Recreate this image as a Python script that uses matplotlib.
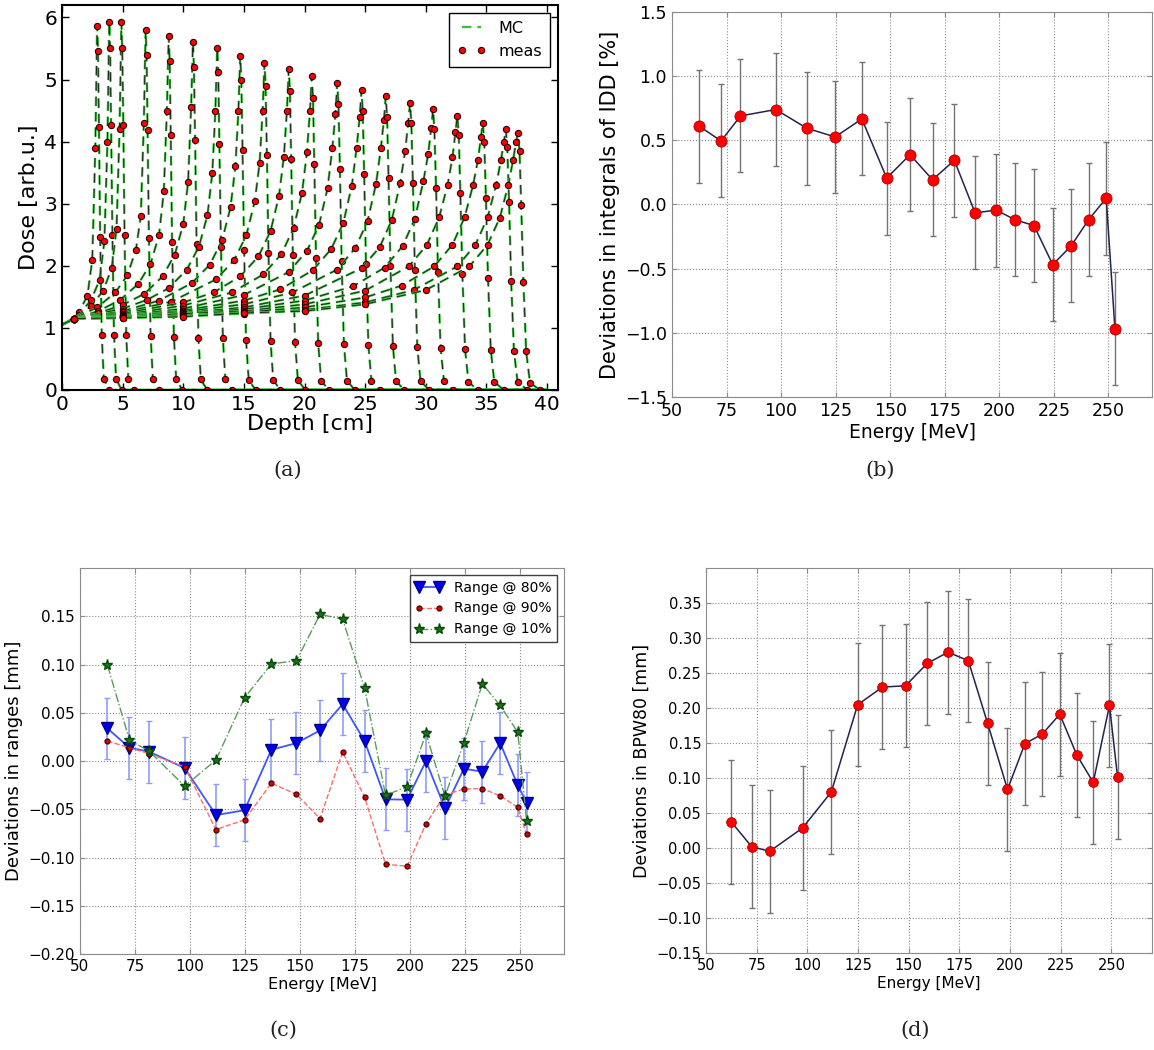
import matplotlib
matplotlib.use('Agg')
import matplotlib.pyplot as plt

# (a) depth dose curves, one list per beam energy
depth_cm = [
    [0, 1, 1.4, 2.1, 2.5, 2.75, 2.9, 2.97, 3.05, 3.15, 3.28, 3.45, 3.9, 40],
    [0, 1, 1.4, 2.4, 3.1, 3.5, 3.75, 3.9, 3.97, 4.05, 4.16, 4.29, 4.46, 4.92, 40],
    [0, 1, 2.4, 3.4, 4.1, 4.5, 4.75, 4.9, 4.97, 5.06, 5.16, 5.3, 5.47, 5.94, 40],
    [0, 1, 2.9, 4.4, 5.4, 6.1, 6.5, 6.75, 6.9, 6.98, 7.06, 7.17, 7.31, 7.5, 7.99, 40],
    [0, 1, 3.0, 4.8, 6.3, 7.3, 8.0, 8.4, 8.65, 8.8, 8.88, 8.97, 9.08, 9.23, 9.42, 9.93, 40],
    [0, 1, 3.0, 5.0, 6.8, 8.3, 9.3, 10.0, 10.4, 10.65, 10.8, 10.88, 10.98, 11.1, 11.25, 11.45, 11.98, 40],
    [0, 1, 5.0, 7.0, 8.8, 10.3, 11.3, 12.0, 12.4, 12.65, 12.8, 12.89, 12.98, 13.11, 13.27, 13.47, 14.02, 40],
    [0, 1, 5.0, 8.0, 10.7, 12.2, 13.2, 13.9, 14.3, 14.55, 14.7, 14.79, 14.89, 15.02, 15.18, 15.4, 15.97, 40],
    [0, 1, 5.0, 9.0, 12.7, 14.2, 15.2, 15.9, 16.3, 16.55, 16.7, 16.79, 16.9, 17.03, 17.2, 17.42, 18.01, 40],
    [0, 1, 5.0, 10.0, 12.5, 14.7, 16.2, 17.2, 17.9, 18.3, 18.55, 18.7, 18.8, 18.9, 19.04, 19.22, 19.45, 20.06, 40],
    [0, 1, 5.0, 10.0, 14.0, 16.6, 18.1, 19.1, 19.8, 20.2, 20.45, 20.6, 20.7, 20.81, 20.95, 21.13, 21.37, 22.0, 40],
    [0, 1, 5.0, 10.0, 15.0, 18.7, 20.2, 21.2, 21.9, 22.3, 22.55, 22.7, 22.8, 22.92, 23.06, 23.25, 23.5, 24.15, 40],
    [0, 1, 5.0, 10.0, 15.0, 18.0, 20.7, 22.2, 23.2, 23.9, 24.3, 24.55, 24.7, 24.8, 24.92, 25.07, 25.27, 25.52, 26.2, 40],
    [0, 1, 5.0, 10.0, 15.0, 19.0, 22.7, 24.2, 25.2, 25.9, 26.3, 26.55, 26.7, 26.81, 26.93, 27.09, 27.29, 27.55, 28.24, 40],
    [0, 1, 5.0, 10.0, 15.0, 20.0, 24.7, 26.2, 27.2, 27.9, 28.3, 28.55, 28.7, 28.81, 28.94, 29.1, 29.3, 29.57, 30.29, 40],
    [0, 1, 5.0, 10.0, 15.0, 20.0, 24.0, 26.6, 28.1, 29.1, 29.8, 30.2, 30.45, 30.6, 30.71, 30.85, 31.01, 31.22, 31.5, 32.23, 40],
    [0, 1, 5.0, 10.0, 15.0, 20.0, 25.0, 28.6, 30.1, 31.1, 31.8, 32.2, 32.45, 32.6, 32.72, 32.85, 33.02, 33.24, 33.52, 34.28, 40],
    [0, 1, 5.0, 10.0, 15.0, 20.0, 25.0, 28.0, 30.7, 32.2, 33.2, 33.9, 34.3, 34.55, 34.7, 34.82, 34.96, 35.13, 35.36, 35.65, 36.43, 40],
    [0, 1, 5.0, 10.0, 15.0, 20.0, 25.0, 29.0, 32.6, 34.1, 35.1, 35.8, 36.2, 36.45, 36.6, 36.72, 36.87, 37.04, 37.27, 37.57, 38.37, 40],
    [0, 1, 5.0, 10.0, 15.0, 20.0, 25.0, 30.0, 33.6, 35.1, 36.1, 36.8, 37.2, 37.45, 37.6, 37.73, 37.87, 38.05, 38.28, 38.59, 39.39, 40],
]
dose_au = [
    [1.05, 1.15, 1.25, 1.52, 2.1, 3.9, 5.87, 5.46, 4.23, 2.47, 0.88, 0.18, 0, 0],
    [1.05, 1.15, 1.21, 1.45, 1.77, 2.4, 4.0, 5.92, 5.51, 4.26, 2.49, 0.89, 0.18, 0, 0],
    [1.05, 1.15, 1.35, 1.6, 1.96, 2.6, 4.2, 5.92, 5.51, 4.26, 2.49, 0.89, 0.18, 0, 0],
    [1.05, 1.15, 1.33, 1.57, 1.85, 2.26, 2.8, 4.3, 5.8, 5.39, 4.18, 2.44, 0.87, 0.17, 0, 0],
    [1.05, 1.15, 1.27, 1.45, 1.71, 2.03, 2.49, 3.2, 4.5, 5.7, 5.3, 4.1, 2.39, 0.86, 0.17, 0, 0],
    [1.05, 1.15, 1.24, 1.37, 1.55, 1.83, 2.18, 2.67, 3.35, 4.55, 5.6, 5.21, 4.03, 2.35, 0.84, 0.17, 0, 0],
    [1.05, 1.15, 1.31, 1.45, 1.64, 1.94, 2.31, 2.82, 3.5, 4.5, 5.5, 5.12, 3.96, 2.31, 0.83, 0.17, 0, 0],
    [1.05, 1.15, 1.27, 1.44, 1.72, 2.02, 2.41, 2.94, 3.6, 4.5, 5.38, 5.0, 3.87, 2.26, 0.81, 0.16, 0, 0],
    [1.05, 1.15, 1.25, 1.42, 1.78, 2.09, 2.49, 3.04, 3.66, 4.5, 5.27, 4.9, 3.79, 2.21, 0.79, 0.16, 0, 0],
    [1.05, 1.15, 1.23, 1.41, 1.57, 1.83, 2.15, 2.56, 3.13, 3.76, 4.5, 5.17, 4.81, 3.72, 2.17, 0.78, 0.16, 0, 0],
    [1.05, 1.15, 1.21, 1.36, 1.57, 1.86, 2.19, 2.61, 3.18, 3.83, 4.5, 5.05, 4.7, 3.64, 2.12, 0.76, 0.15, 0, 0],
    [1.05, 1.15, 1.20, 1.31, 1.53, 1.9, 2.24, 2.66, 3.25, 3.9, 4.45, 4.95, 4.6, 3.56, 2.08, 0.74, 0.15, 0, 0],
    [1.05, 1.15, 1.19, 1.28, 1.44, 1.62, 1.93, 2.27, 2.69, 3.29, 3.9, 4.4, 4.83, 4.49, 3.48, 2.03, 0.72, 0.14, 0, 0],
    [1.05, 1.15, 1.19, 1.26, 1.38, 1.57, 1.94, 2.29, 2.72, 3.32, 3.9, 4.35, 4.73, 4.4, 3.41, 1.99, 0.71, 0.14, 0, 0],
    [1.05, 1.15, 1.18, 1.24, 1.33, 1.52, 1.96, 2.3, 2.74, 3.34, 3.85, 4.3, 4.62, 4.3, 3.33, 1.94, 0.69, 0.14, 0, 0],
    [1.05, 1.15, 1.17, 1.23, 1.30, 1.44, 1.67, 1.97, 2.32, 2.76, 3.36, 3.8, 4.22, 4.52, 4.2, 3.25, 1.9, 0.68, 0.14, 0, 0],
    [1.05, 1.15, 1.17, 1.23, 1.27, 1.38, 1.6, 1.99, 2.34, 2.78, 3.3, 3.75, 4.15, 4.42, 4.11, 3.18, 1.86, 0.66, 0.13, 0, 0],
    [1.05, 1.15, 1.17, 1.20, 1.25, 1.33, 1.49, 1.68, 1.99, 2.34, 2.78, 3.3, 3.7, 4.07, 4.3, 4.0, 3.1, 1.81, 0.65, 0.13, 0, 0],
    [1.05, 1.15, 1.16, 1.19, 1.23, 1.29, 1.41, 1.61, 1.99, 2.34, 2.78, 3.3, 3.7, 4.0, 4.2, 3.91, 3.02, 1.76, 0.63, 0.13, 0, 0],
    [1.05, 1.15, 1.16, 1.18, 1.24, 1.27, 1.38, 1.61, 1.99, 2.34, 2.77, 3.3, 3.7, 4.0, 4.14, 3.85, 2.98, 1.74, 0.62, 0.12, 0, 0],
]

# (b)-(d) deviations per beam energy
energy = [62.5, 72.5, 81.4, 97.6, 111.8, 124.8, 137.0, 148.4, 159.1, 169.4,
          179.4, 188.9, 198.7, 207.3, 215.9, 224.5, 232.9, 241.0, 249.0, 253.0]
idd_dev = [0.61, 0.495, 0.69, 0.74, 0.594, 0.526, 0.667, 0.206, 0.388, 0.193,
           0.344, -0.065, -0.044, -0.12, -0.164, -0.469, -0.323, -0.117, 0.049, -0.969]
idd_err = 0.44
range80 = [0.0338, 0.0138, 0.0097, -0.0072, -0.056, -0.051, 0.0117, 0.0186, 0.0317, 0.059,
           0.0207, -0.0397, -0.040, 0.000, -0.049, -0.008, -0.011, 0.0186, -0.025, -0.043]
range80_err = 0.032
range90 = [0.0207, 0.0138, 0.0076, -0.006, -0.071, -0.061, -0.023, -0.0345, -0.0597, 0.0093,
           -0.0376, -0.107, -0.109, -0.065, -0.035, -0.029, -0.0286, -0.036, -0.048, -0.076]
range10 = [0.0993, 0.0217, 0.0103, -0.026, 0.001, 0.0655, 0.1007, 0.104, 0.152, 0.147,
           0.0755, -0.0355, -0.0266, 0.0286, -0.0366, 0.019, 0.080, 0.0576, 0.030, -0.062]
bpw80 = [0.0371, 0.0019, -0.0048, 0.0285, 0.080, 0.2046, 0.2298, 0.2317, 0.2636, 0.2797,
         0.2674, 0.178, 0.0837, 0.149, 0.1627, 0.191, 0.1327, 0.0937, 0.2036, 0.1013]
bpw80_err = 0.088

energy_ticks = [50, 75, 100, 125, 150, 175, 200, 225, 250]

fig = plt.figure(figsize=(11.54, 10.5), dpi=100)

# ---- (a)
ax = fig.add_axes([0.0537, 0.6286, 0.4298, 0.3666])
for d, v in zip(depth_cm, dose_au):
    mc, = ax.plot(d, v, '--', color='#3cc03c', lw=1.7, dashes=(4, 2.5))
    # dark core of the dashes, as in the scanned original
    ax.plot(d, v, '--', color='#1a2a1a', lw=0.7, dashes=(4 * 1.7 / 0.7, 2.5 * 1.7 / 0.7))
    ms, = ax.plot(d[1:-1], v[1:-1], 'o', color='red', ms=4.5, mec='#2a0000', mew=0.8)
ax.legend([mc, ms], ['MC', 'meas'], loc='upper right', numpoints=2, fontsize=11.5,
          fancybox=False, edgecolor='black', framealpha=1, borderaxespad=0.5,
          handlelength=1.8, borderpad=0.5)
ax.set_xlim(0, 40.9)
ax.set_ylim(0, 6.2)
ax.set_xticks(range(0, 41, 5))
ax.set_yticks(range(0, 7))
ax.tick_params(direction='in', top=True, right=True, labelsize=14.5, length=5, width=1)
for s in ax.spines.values():
    s.set_linewidth(1.5)
ax.set_xlabel('Depth [cm]', fontsize=16, labelpad=0)
ax.set_ylabel('Dose [arb.u.]', fontsize=16, labelpad=4)


def dev_axes(ax):
    ax.grid(True, linestyle=':', color='0.55', linewidth=0.8)
    ax.set_axisbelow(True)
    ax.set_xlim(50, 270)
    ax.set_xticks(energy_ticks)
    for s in ax.spines.values():
        s.set_color('0.55')
    ax.tick_params(direction='in', top=True, right=True, color='0.55')


# ---- (b)
ax = fig.add_axes([0.5823, 0.6219, 0.4160, 0.3667])
dev_axes(ax)
ax.errorbar(energy, idd_dev, yerr=idd_err, fmt='none', ecolor='0.45', elinewidth=1, capsize=2)
ax.plot(energy, idd_dev, '-o', color='#23234f', lw=1.1, ms=8, mfc='red', mec='#aa0000', mew=0.6)
ax.set_ylim(-1.5, 1.5)
ax.set_yticks([-1.5, -1.0, -0.5, 0.0, 0.5, 1.0, 1.5])
ax.tick_params(labelsize=12.5)
ax.set_xlabel('Energy [MeV]', fontsize=13.5, labelpad=2)
ax.set_ylabel('Deviations in integrals of IDD [%]', fontsize=15)

# ---- (c)
ax = fig.add_axes([0.0693, 0.0914, 0.4194, 0.3676])
dev_axes(ax)
ax.errorbar(energy, range80, yerr=range80_err, fmt='none', ecolor='#8f9cff', elinewidth=1.2, capsize=2)
ax.plot(energy, range80, '-v', color='#3f55ff', lw=1.3, ms=8, mfc='#0000ee', mec='#00008a',
        label='Range @ 80%')
ax.plot(energy, range90, '--', color='#ff6b6b', lw=1.0, marker='o', ms=3.5, mfc='#dd0000',
        mec='#550000', label='Range @ 90%')
ax.plot(energy, range10, '-.', color='#5a9d5a', lw=1.0, marker='*', ms=8, mfc='#117711',
        mec='#0b4a0b', label='Range @ 10%')
ax.set_ylim(-0.2, 0.2)
ax.set_yticks([-0.2, -0.15, -0.1, -0.05, 0.0, 0.05, 0.1, 0.15])
ax.tick_params(labelsize=11)
ax.legend(loc='upper right', numpoints=2, fontsize=10, fancybox=False, edgecolor='0.25',
          framealpha=1, borderaxespad=0.5)
ax.set_xlabel('Energy [MeV]', fontsize=11.5, labelpad=2)
ax.set_ylabel('Deviations in ranges [mm]', fontsize=13)

# ---- (d)
ax = fig.add_axes([0.6118, 0.0924, 0.3865, 0.3667])
dev_axes(ax)
ax.errorbar(energy, bpw80, yerr=bpw80_err, fmt='none', ecolor='0.45', elinewidth=1, capsize=2)
ax.plot(energy, bpw80, '-o', color='#23234f', lw=1.1, ms=7, mfc='red', mec='#aa0000', mew=0.6)
ax.set_ylim(-0.15, 0.40)
ax.set_yticks([-0.15, -0.1, -0.05, 0.0, 0.05, 0.1, 0.15, 0.2, 0.25, 0.3, 0.35])
ax.tick_params(labelsize=10.5)
ax.set_xlabel('Energy [MeV]', fontsize=11, labelpad=2)
ax.set_ylabel('Deviations in BPW80 [mm]', fontsize=12.5)

for x, y, t in [(0.2496, 0.5524, '(a)'), (0.7626, 0.5524, '(b)'),
                (0.2452, 0.019, '(c)'), (0.7929, 0.019, '(d)')]:
    fig.text(x, y, t, ha='center', va='center', fontsize=15, family='DejaVu Serif', color='#222222')

fig.savefig('out.png', dpi=100)
